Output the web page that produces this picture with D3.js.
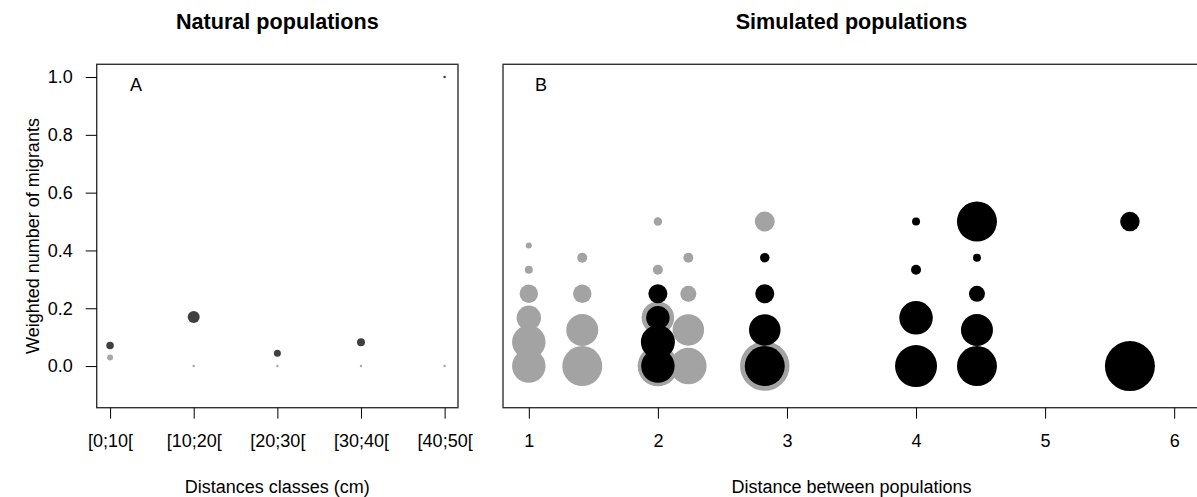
<!DOCTYPE html>
<html>
<head>
<meta charset="utf-8">
<script src="https://cdn.jsdelivr.net/npm/d3@7"></script>
<style>
  html, body { margin: 0; padding: 0; background: #fff; }
  svg { display: block; font-family: "Liberation Sans", Arial, sans-serif; }
</style>
</head>
<body>
<svg id="chart" width="1197" height="497"></svg>
<script>
// ---------- Data ----------
// Panel A: natural populations
const classLabels = ["[0;10[", "[10;20[", "[20;30[", "[30;40[", "[40;50["];
const naturalDarkValues  = [0.071, 0.170, 0.044, 0.082, 1.0];
const naturalDarkWeight  = [0.15, 0.24, 0.14, 0.16, 0.05];
const naturalLightValues = [0.030, 0, 0, 0, 0];
const naturalLightWeight = [0.12, 0.05, 0.05, 0.05, 0.05];

// Panel B: simulated populations
const yTicks = [0, 0.2, 0.4, 0.6, 0.8, 1.0];
const xTicksB = [1, 2, 3, 4, 5, 6];

const grayDistance = [1, 1, 1, 1, 1, 1,
                      1.414, 1.414, 1.414, 1.414,
                      2, 2, 2, 2,
                      2.236, 2.236, 2.236, 2.236,
                      2.828, 2.828];
const grayValue    = [0, 0.083, 0.167, 0.25, 0.333, 0.417,
                      0, 0.125, 0.25, 0.375,
                      0, 0.167, 0.333, 0.5,
                      0, 0.125, 0.25, 0.375,
                      0, 0.5];
const grayWeight   = [0.67, 0.67, 0.49, 0.37, 0.16, 0.12,
                      0.80, 0.64, 0.37, 0.20,
                      0.81, 0.65, 0.20, 0.17,
                      0.73, 0.63, 0.32, 0.20,
                      0.99, 0.40];

const blackDistance = [2, 2, 2, 2,
                       2.828, 2.828, 2.828, 2.828,
                       4, 4, 4, 4,
                       4.472, 4.472, 4.472, 4.472, 4.472,
                       5.657, 5.657];
const blackValue    = [0, 0.083, 0.167, 0.25,
                       0, 0.125, 0.25, 0.375,
                       0, 0.167, 0.333, 0.5,
                       0, 0.125, 0.25, 0.375, 0.5,
                       0, 0.5];
const blackWeight   = [0.67, 0.68, 0.47, 0.38,
                       0.80, 0.63, 0.38, 0.19,
                       0.84, 0.67, 0.20, 0.16,
                       0.80, 0.64, 0.32, 0.16, 0.80,
                       1.00, 0.39];

// ---------- Layout ----------
const svg = d3.select("#chart");
const plotTop = 64.3, plotBottom = 407.7;
const A = { left: 96.7, right: 458 };
const B = { left: 503, right: 1200 };

const y = d3.scaleLinear().domain([-0.144, 1.044]).range([plotBottom, plotTop]);
const xA = d3.scaleLinear().domain([0.84, 5.16]).range([A.left, A.right]);
const xB = d3.scaleLinear().domain([0.8, 6.2]).range([B.left, B.right]);
const r = d3.scaleLinear().domain([0, 1]).range([0, 25]);

const fontSize = 18;

// ---------- Panel A points ----------
const gA = svg.append("g");
gA.selectAll("circle.light")
  .data(naturalLightValues)
  .join("circle")
  .attr("class", "light")
  .attr("cx", (d, i) => xA(i + 1))
  .attr("cy", d => y(d))
  .attr("r", (d, i) => r(naturalLightWeight[i]))
  .attr("fill", "#a8a8a8");
gA.selectAll("circle.dark")
  .data(naturalDarkValues)
  .join("circle")
  .attr("class", "dark")
  .attr("cx", (d, i) => xA(i + 1))
  .attr("cy", d => y(d))
  .attr("r", (d, i) => r(naturalDarkWeight[i]))
  .attr("fill", "#404040");

// ---------- Panel B points ----------
const gB = svg.append("g");
gB.selectAll("circle.gray")
  .data(grayValue)
  .join("circle")
  .attr("class", "gray")
  .attr("cx", (d, i) => xB(grayDistance[i]))
  .attr("cy", d => y(d))
  .attr("r", (d, i) => r(grayWeight[i]))
  .attr("fill", "#a3a3a3");
gB.selectAll("circle.black")
  .data(blackValue)
  .join("circle")
  .attr("class", "black")
  .attr("cx", (d, i) => xB(blackDistance[i]))
  .attr("cy", d => y(d))
  .attr("r", (d, i) => r(blackWeight[i]))
  .attr("fill", "#000");

// ---------- Boxes ----------
[A, B].forEach(p => {
  svg.append("rect")
    .attr("x", p.left).attr("y", plotTop)
    .attr("width", p.right - p.left).attr("height", plotBottom - plotTop)
    .attr("fill", "none").attr("stroke", "#333").attr("stroke-width", 1.4);
});

// ---------- Axes ----------
function styleAxis(g) {
  g.select(".domain").remove();
  g.selectAll(".tick line").attr("stroke", "#000").attr("stroke-width", 1);
  g.selectAll(".tick text")
    .attr("font-size", fontSize)
    .attr("font-family", "'Liberation Sans', Arial, sans-serif")
    .attr("fill", "#000");
}

const axA = svg.append("g")
  .attr("transform", `translate(0,${plotBottom})`)
  .call(d3.axisBottom(xA).tickValues([1, 2, 3, 4, 5])
    .tickFormat(d => classLabels[d - 1]).tickSize(11).tickPadding(16));
styleAxis(axA);

const axB = svg.append("g")
  .attr("transform", `translate(0,${plotBottom})`)
  .call(d3.axisBottom(xB).tickValues(xTicksB)
    .tickFormat(d3.format("d")).tickSize(11).tickPadding(16));
styleAxis(axB);

const axY = svg.append("g")
  .attr("transform", `translate(${A.left},0)`)
  .call(d3.axisLeft(y).tickValues(yTicks)
    .tickFormat(d3.format(".1f")).tickSize(11).tickPadding(13));
styleAxis(axY);

// ---------- Text ----------
svg.append("text")
  .attr("x", (A.left + A.right) / 2).attr("y", 29)
  .attr("text-anchor", "middle").attr("font-weight", "bold")
  .attr("font-size", 21.6).text("Natural populations");
svg.append("text")
  .attr("x", (B.left + B.right) / 2).attr("y", 29)
  .attr("text-anchor", "middle").attr("font-weight", "bold")
  .attr("font-size", 21.6).text("Simulated populations");

svg.append("text")
  .attr("x", (A.left + A.right) / 2).attr("y", 493)
  .attr("text-anchor", "middle").attr("font-size", fontSize)
  .text("Distances classes (cm)");
svg.append("text")
  .attr("x", (B.left + B.right) / 2).attr("y", 493)
  .attr("text-anchor", "middle").attr("font-size", fontSize)
  .text("Distance between populations");

svg.append("text")
  .attr("transform", `translate(38.5,${(plotTop + plotBottom) / 2}) rotate(-90)`)
  .attr("text-anchor", "middle").attr("font-size", fontSize)
  .text("Weighted number of migrants");

svg.append("text")
  .attr("x", 136).attr("y", 90.5)
  .attr("text-anchor", "middle").attr("font-size", fontSize)
  .text("A");
svg.append("text")
  .attr("x", 541).attr("y", 90.5)
  .attr("text-anchor", "middle").attr("font-size", fontSize)
  .text("B");
</script>
</body>
</html>
